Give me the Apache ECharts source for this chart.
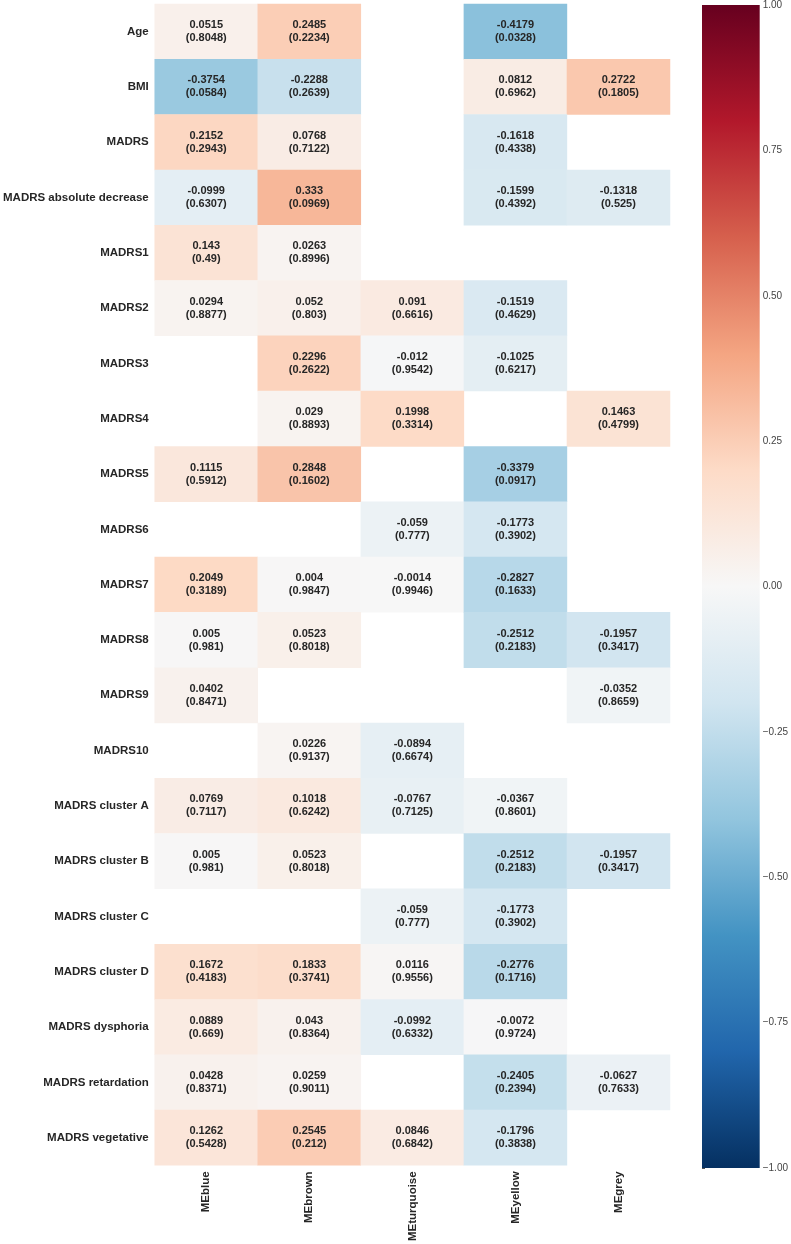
<!DOCTYPE html>
<html>
<head>
<meta charset="utf-8">
<script src="https://cdn.jsdelivr.net/npm/echarts@6/dist/echarts.min.js"></script>
<style>
html,body{margin:0;padding:0;background:#fff;}
#chart{width:791px;height:1244px;}
</style>
</head>
<body>
<div id="chart"></div>
<script>
const columns = ['MEblue', 'MEbrown', 'MEturquoise', 'MEyellow', 'MEgrey'];
const rows = ['Age', 'BMI', 'MADRS', 'MADRS absolute decrease', 'MADRS1', 'MADRS2', 'MADRS3',
  'MADRS4', 'MADRS5', 'MADRS6', 'MADRS7', 'MADRS8', 'MADRS9', 'MADRS10',
  'MADRS cluster A', 'MADRS cluster B', 'MADRS cluster C', 'MADRS cluster D',
  'MADRS dysphoria', 'MADRS retardation', 'MADRS vegetative'];

// correlation values per row (columns order as above); null = no value
const corr = [
  [0.0515, 0.2485, null, -0.4179, null],
  [-0.3754, -0.2288, null, 0.0812, 0.2722],
  [0.2152, 0.0768, null, -0.1618, null],
  [-0.0999, 0.333, null, -0.1599, -0.1318],
  [0.143, 0.0263, null, null, null],
  [0.0294, 0.052, 0.091, -0.1519, null],
  [null, 0.2296, -0.012, -0.1025, null],
  [null, 0.029, 0.1998, null, 0.1463],
  [0.1115, 0.2848, null, -0.3379, null],
  [null, null, -0.059, -0.1773, null],
  [0.2049, 0.004, -0.0014, -0.2827, null],
  [0.005, 0.0523, null, -0.2512, -0.1957],
  [0.0402, null, null, null, -0.0352],
  [null, 0.0226, -0.0894, null, null],
  [0.0769, 0.1018, -0.0767, -0.0367, null],
  [0.005, 0.0523, null, -0.2512, -0.1957],
  [null, null, -0.059, -0.1773, null],
  [0.1672, 0.1833, 0.0116, -0.2776, null],
  [0.0889, 0.043, -0.0992, -0.0072, null],
  [0.0428, 0.0259, null, -0.2405, -0.0627],
  [0.1262, 0.2545, 0.0846, -0.1796, null]
];
// p-values
const pvals = [
  [0.8048, 0.2234, null, 0.0328, null],
  [0.0584, 0.2639, null, 0.6962, 0.1805],
  [0.2943, 0.7122, null, 0.4338, null],
  [0.6307, 0.0969, null, 0.4392, 0.525],
  [0.49, 0.8996, null, null, null],
  [0.8877, 0.803, 0.6616, 0.4629, null],
  [null, 0.2622, 0.9542, 0.6217, null],
  [null, 0.8893, 0.3314, null, 0.4799],
  [0.5912, 0.1602, null, 0.0917, null],
  [null, null, 0.777, 0.3902, null],
  [0.3189, 0.9847, 0.9946, 0.1633, null],
  [0.981, 0.8018, null, 0.2183, 0.3417],
  [0.8471, null, null, null, 0.8659],
  [null, 0.9137, 0.6674, null, null],
  [0.7117, 0.6242, 0.7125, 0.8601, null],
  [0.981, 0.8018, null, 0.2183, 0.3417],
  [null, null, 0.777, 0.3902, null],
  [0.4183, 0.3741, 0.9556, 0.1716, null],
  [0.669, 0.8364, 0.6332, 0.9724, null],
  [0.8371, 0.9011, null, 0.2394, 0.7633],
  [0.5428, 0.212, 0.6842, 0.3838, null]
];
const cbarMin = -1, cbarMax = 1, cbarStep = 0.25;
const rdbuR = ['#053061', '#2166ac', '#4393c3', '#92c5de', '#d1e5f0', '#f7f7f7',
               '#fddbc7', '#f4a582', '#d6604d', '#b2182b', '#67001f'];

const data = [];
corr.forEach((r, i) => r.forEach((v, j) => {
  if (v !== null) data.push([j, i, v, pvals[i][j]]);
}));

const FONT = '"Liberation Sans", Arial, sans-serif';
const TXT = '#262626';
const chart = echarts.init(document.getElementById('chart'));
chart.setOption({
  animation: false,
  backgroundColor: '#fff',
  grid: [
    {left: 150, top: 4, width: 520, height: 1164},
    {left: 702, top: 4, width: 59, height: 1164}
  ],
  xAxis: [
    {type: 'category', data: columns, gridIndex: 0, position: 'bottom',
     axisLine: {show: false}, axisTick: {show: false}, splitLine: {show: false},
     axisLabel: {rotate: 90, margin: 6, fontFamily: FONT, fontWeight: 'bold', fontSize: 11.5, color: TXT}},
    {type: 'value', gridIndex: 1, min: 0, max: 1,
     axisLine: {show: false}, axisTick: {show: false}, axisLabel: {show: false}, splitLine: {show: false}}
  ],
  yAxis: [
    {type: 'category', data: rows, gridIndex: 0, inverse: true,
     axisLine: {show: false}, axisTick: {show: false}, splitLine: {show: false},
     axisLabel: {margin: 6, fontFamily: FONT, fontWeight: 'bold', fontSize: 11.5, color: TXT}},
    {type: 'value', gridIndex: 1, position: 'right', min: cbarMin, max: cbarMax, interval: cbarStep,
     axisLine: {show: false}, splitLine: {show: false},
     axisTick: {show: true, length: 3, lineStyle: {color: '#555', width: 1}},
     axisLabel: {margin: 3, fontFamily: FONT, fontSize: 10, color: '#444',
       formatter: v => (v < 0 ? '\u2212' : '') + Math.abs(v).toFixed(2)}}
  ],
  visualMap: {
    type: 'continuous', seriesIndex: 0, min: cbarMin, max: cbarMax, dimension: 2,
    show: false,
    inRange: {color: rdbuR}
  },
  series: [
    {type: 'heatmap', xAxisIndex: 0, yAxisIndex: 0, data: data,
     label: {show: true, fontFamily: FONT, fontWeight: 'bold', fontSize: 11, color: TXT, lineHeight: 13,
       formatter: p => p.data[2] + '\n(' + p.data[3] + ')'},
     emphasis: {disabled: true}},
    {type: 'custom', xAxisIndex: 1, yAxisIndex: 1, silent: true,
     data: [[0, cbarMin, 1, cbarMax]],
     renderItem: (params, api) => {
       const p0 = api.coord([api.value(0), api.value(3)]);
       const p1 = api.coord([api.value(2), api.value(1)]);
       const n = rdbuR.length;
       const stops = rdbuR.map((c, k) => ({offset: 1 - k / (n - 1), color: c}));
       stops.reverse();
       return {
         type: 'rect',
         shape: {x: p0[0], y: p0[1], width: p1[0] - p0[0], height: p1[1] - p0[1]},
         style: {fill: new echarts.graphic.LinearGradient(0, 0, 0, 1, stops)}
       };
     }}
  ]
});
</script>
</body>
</html>
